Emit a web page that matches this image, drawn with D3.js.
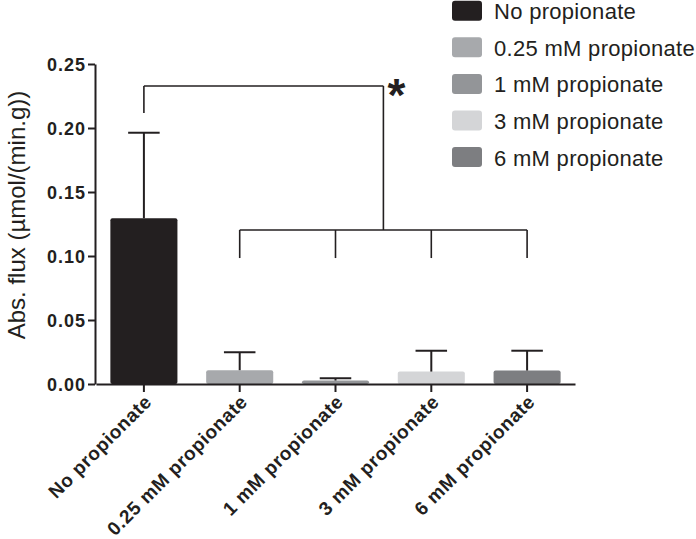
<!DOCTYPE html>
<html><head><meta charset="utf-8">
<script src="https://cdn.jsdelivr.net/npm/d3@7"></script>
<style>body{margin:0;background:#fff}svg{display:block}text{font-family:"Liberation Sans",Arial,sans-serif}</style>
</head><body>
<script>
const categories = ["No propionate","0.25 mM propionate","1 mM propionate","3 mM propionate","6 mM propionate"];
const means = [0.1295, 0.0108, 0.0027, 0.0097, 0.0105];
const errors = [0.0668, 0.0140, 0.0018, 0.0163, 0.0155];
const colors = ["#231f20","#a7a9ac","#939598","#d4d5d7","#7d7e81"];
const yTicks = [0, 0.05, 0.10, 0.15, 0.20, 0.25];
// significance bracket levels (data units)
const bracketTop = 0.2328, bracketLeftEnd = 0.2117, bracketMid = 0.1203, bracketDrop = 0.0984;

const W = 696, H = 539;
const svg = d3.select("body").append("svg").attr("width", W).attr("height", H);
const x = d3.scaleBand().domain(categories).range([96, 575]).paddingInner(0.3).paddingOuter(0.15);
const y = d3.scaleLinear().domain([0, 0.25]).range([384, 64]);

// bars
svg.selectAll("rect.bar").data(categories).join("rect")
  .attr("class","bar")
  .attr("x", d => x(d)).attr("width", x.bandwidth())
  .attr("y", (d,i) => y(means[i])).attr("height", (d,i) => y(0) - y(means[i]))
  .attr("rx", 2).attr("fill", (d,i) => colors[i]);

// error bars (upper)
const capW = x.bandwidth() * 0.47;
categories.forEach((c,i) => {
  const cx = x(c) + x.bandwidth()/2;
  svg.append("line").attr("x1", cx).attr("x2", cx).attr("y1", y(means[i])).attr("y2", y(means[i]+errors[i]))
    .attr("stroke","#231f20").attr("stroke-width",2);
  svg.append("line").attr("x1", cx-capW/2).attr("x2", cx+capW/2).attr("y1", y(means[i]+errors[i])).attr("y2", y(means[i]+errors[i]))
    .attr("stroke","#231f20").attr("stroke-width",2);
});

// y axis
const yAxis = svg.append("g").attr("transform","translate(95,0)")
  .call(d3.axisLeft(y).tickValues(yTicks).tickFormat(d3.format(".2f")).tickSize(7).tickSizeOuter(0));
yAxis.select(".domain").attr("stroke","#231f20").attr("stroke-width",2);
yAxis.selectAll(".tick line").attr("stroke","#231f20").attr("stroke-width",2);
yAxis.selectAll(".tick text").attr("font-size",18).attr("font-weight","bold").attr("fill","#231f20")
  .attr("letter-spacing","1px").attr("x",-9).attr("dy","0.36em").attr("font-family","'Liberation Sans',Arial,sans-serif");

// x axis
const xAxis = svg.append("g").attr("transform","translate(0,384)")
  .call(d3.axisBottom(x).tickSize(8).tickSizeOuter(0));
xAxis.select(".domain").attr("stroke","#231f20").attr("stroke-width",2);
xAxis.selectAll(".tick line").attr("stroke","#231f20").attr("stroke-width",2);
xAxis.selectAll(".tick text").attr("font-size",19).attr("font-weight","bold").attr("fill","#231f20")
  .attr("letter-spacing","0.6px").attr("font-family","'Liberation Sans',Arial,sans-serif")
  .attr("text-anchor","end").attr("x",0).attr("y",0).attr("dy",0)
  .attr("transform","translate(9,19) rotate(-45)");

// y title
svg.append("text").attr("transform","translate(25,215) rotate(-90)").attr("text-anchor","middle")
  .attr("font-size",24).attr("fill","#231f20").text("Abs. flux (µmol/(min.g))");

// significance bracket
const cx0 = x(categories[0]) + x.bandwidth()/2;
const cxs = categories.slice(1).map(c => x(c) + x.bandwidth()/2);
const midX = (cxs[0] + cxs[cxs.length-1]) / 2;
const bs = {stroke:"#231f20","stroke-width":1.6, fill:"none"};
function ln(x1,y1,x2,y2){ const l = svg.append("line").attr("x1",x1).attr("y1",y1).attr("x2",x2).attr("y2",y2); Object.entries(bs).forEach(([k,v])=>l.attr(k,v)); }
ln(cx0, y(bracketTop), midX, y(bracketTop));
ln(cx0, y(bracketTop), cx0, y(bracketLeftEnd));
ln(midX, y(bracketTop), midX, y(bracketMid));
ln(cxs[0], y(bracketMid), cxs[cxs.length-1], y(bracketMid));
cxs.forEach(cx => ln(cx, y(bracketMid), cx, y(bracketDrop)));
svg.append("text").attr("x", midX + 13).attr("y", y(bracketTop) + 25).attr("text-anchor","middle")
  .attr("font-size",46).attr("font-weight","bold").attr("fill","#231f20").text("*");

// legend
const lg = svg.append("g");
categories.forEach((c,i) => {
  const yy = 0.7 + i*36.6;
  lg.append("rect").attr("x",452).attr("y",yy).attr("width",30).attr("height",20).attr("rx",3).attr("fill",colors[i]);
  lg.append("text").attr("x",494).attr("y",yy+18.5).attr("font-size",22).attr("letter-spacing","0.3px").attr("fill","#231f20").text(c);
});
</script>
</body></html>
